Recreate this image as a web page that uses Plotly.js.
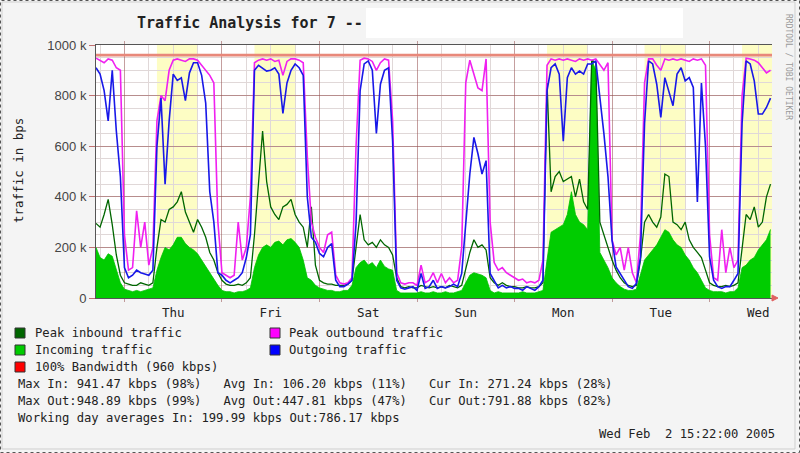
<!DOCTYPE html>
<html>
<head>
<meta charset="utf-8">
<script src="https://cdn.plot.ly/plotly-3.0.1.min.js"></script>
<style>
html,body{margin:0;padding:0;background:#f4f4f4;}
#chart{width:800px;height:453px;}
</style>
</head>
<body>
<div id="chart"></div>
<script>
// ---- data (kbps), hourly samples from Wed 2005-01-26 17:00 to Wed 2005-02-02 15:00 ----
const startTime = '2005-01-26 17:00';
const endTime = '2005-02-02 15:22';

const incoming = [
  200,160,150,175,165,110,60,
  35,30,25,30,25,30,35,40,110,160,200,190,210,240,240,215,200,190,175,150,120,100,70,50,
  30,25,25,20,25,25,30,40,120,170,200,210,200,220,225,210,230,235,220,200,150,80,70,50,
  40,35,30,30,25,25,30,30,50,120,140,150,130,140,120,150,125,115,110,30,20,20,20,20,
  20,25,20,20,25,20,20,25,20,20,25,30,60,90,100,95,90,80,30,20,25,20,20,20,
  20,20,25,20,20,20,25,30,150,260,270,280,290,330,420,330,300,290,270,940,900,180,150,120,
  80,60,45,35,30,30,35,90,150,170,190,210,240,270,260,230,210,200,170,150,120,100,70,40,
  30,25,25,25,20,25,25,40,120,130,150,160,190,210,230,271
];
const peakInbound = [
  295,280,330,390,290,170,90,
  60,55,50,50,60,55,50,60,200,310,300,350,360,380,420,340,300,260,310,280,240,180,150,100,
  70,55,50,50,55,50,60,80,250,450,660,460,360,330,310,360,370,390,330,300,280,200,360,130,
  70,60,55,55,50,50,50,55,70,200,330,230,210,220,200,230,210,200,170,80,45,40,45,40,
  40,50,45,40,45,40,45,40,50,45,40,50,120,180,230,200,210,190,80,60,50,60,50,45,
  45,40,40,45,40,40,45,60,850,420,480,500,460,470,480,400,470,380,350,941,930,300,250,200,
  150,110,80,60,50,45,50,150,300,330,300,280,320,490,480,300,290,270,300,230,200,180,160,110,
  60,50,45,45,50,45,50,60,200,330,310,360,280,300,400,450
];
const outgoing = [
  910,885,820,700,900,660,480,
  120,80,90,110,100,95,90,110,600,790,450,700,885,860,870,780,890,930,930,880,770,420,300,100,
  90,70,60,70,80,100,160,250,900,920,910,897,900,910,885,730,850,900,925,910,880,400,240,220,
  176,163,200,215,70,45,45,55,70,294,820,925,937,900,650,845,900,910,620,70,40,35,40,45,
  30,97,38,45,70,38,45,40,45,55,45,97,294,490,635,570,490,543,97,70,40,50,40,45,
  38,38,30,45,38,30,45,70,820,910,925,885,620,871,910,885,897,885,925,925,937,800,650,480,
  228,123,97,70,45,38,58,163,690,937,925,845,714,871,819,760,885,910,858,871,832,380,850,600,
  163,70,45,38,45,45,70,97,690,937,925,858,727,727,753,790
];
const peakOutbound = [
  948,940,930,945,940,910,900,
  250,110,120,345,200,300,130,200,700,800,780,900,940,945,940,935,945,945,940,920,900,880,850,300,
  100,90,80,90,300,150,200,400,930,940,945,940,945,935,940,880,935,945,945,940,930,560,300,240,
  200,180,250,260,90,60,55,60,80,600,940,948,945,935,900,930,945,940,700,100,60,55,60,60,
  50,130,60,70,100,60,97,60,80,60,70,200,850,940,880,830,820,945,300,140,110,120,100,90,
  80,70,75,60,65,60,70,150,920,945,940,945,940,945,940,935,945,940,945,940,945,920,900,930,
  230,170,200,110,200,100,60,250,850,945,945,920,900,945,940,945,940,945,940,935,945,940,945,920,
  250,80,70,270,100,200,120,150,800,948,945,940,930,910,890,900
];
const bandwidth = 960;

const dayLabels = ['Thu','Fri','Sat','Sun','Mon','Tue','Wed'];
const dayNoons = ['2005-01-27 12:00','2005-01-28 12:00','2005-01-29 12:00','2005-01-30 12:00',
                  '2005-01-31 12:00','2005-02-01 12:00','2005-02-02 12:00'];
const workingDays = ['2005-01-27','2005-01-28','2005-01-31','2005-02-01','2005-02-02'];
const yTickVals = [0,200,400,600,800,1000];
const yTickText = ['0','200 k','400 k','600 k','800 k','1000 k'];

const legendItems = [
  {label:'Peak inbound traffic', color:'#006600', col:0, row:0},
  {label:'Peak outbound traffic', color:'#ff00ff', col:1, row:0},
  {label:'Incoming traffic', color:'#00cc00', col:0, row:1},
  {label:'Outgoing traffic', color:'#0000ff', col:1, row:1},
  {label:'100% Bandwidth (960 kbps)', color:'#ff0000', col:0, row:2}
];
const statLines = [
  'Max In: 941.47 kbps (98%)   Avg In: 106.20 kbps (11%)   Cur In: 271.24 kbps (28%)',
  'Max Out:948.89 kbps (99%)   Avg Out:447.81 kbps (47%)   Cur Out:791.88 kbps (82%)',
  'Working day averages In: 199.99 kbps Out:786.17 kbps'
];
const stamp = 'Wed Feb  2 15:22:00 2005';

// ---- time axis samples ----
function fmt(ms){ return new Date(ms).toISOString().slice(0,16).replace('T',' '); }
const t0 = Date.parse(startTime.replace(' ','T')+':00Z');
const times = incoming.map((_,i)=>fmt(t0 + i*3600000));

// ---- layout helpers (pixel -> paper) ----
const L=96, R=772, T=45, B=298;
const PX = p => (p-L)/(R-L);
const PY = p => (B-p)/(B-T);
const nb = s => s.replace(/ /g,'\u00a0');
const mono = 'DejaVu Sans Mono, monospace';

const traces = [
  {x:times, y:incoming, type:'scatter', mode:'lines', fill:'tozeroy',
   fillcolor:'#00cc00', line:{color:'#00c000', width:0.8}, name:'Incoming traffic'},
  {x:times, y:peakInbound, type:'scatter', mode:'lines',
   line:{color:'#006600', width:1.3}, name:'Peak inbound traffic'},
  {x:times, y:peakOutbound, type:'scatter', mode:'lines',
   line:{color:'#f020f0', width:1.6}, name:'Peak outbound traffic'},
  {x:times, y:outgoing, type:'scatter', mode:'lines',
   line:{color:'#1818e8', width:1.6}, name:'Outgoing traffic'},
  {x:[startTime,endTime], y:[bandwidth,bandwidth], xaxis:'x2', type:'scatter', mode:'lines',
   line:{color:'#e8887a', width:2.6}, name:'100% Bandwidth'}
];

const shapes = [];
// working-hours shading
workingDays.forEach(d=>{
  let a = d+' 08:00', b = d+' 18:00';
  if (b > endTime) b = endTime;
  shapes.push({type:'rect', xref:'x', yref:'paper', x0:a, x1:b, y0:0, y1:1,
    fillcolor:'#fdfdc4', line:{width:0}, layer:'below'});
});
// frame
shapes.push({type:'rect', xref:'paper', yref:'paper', x0:PX(2), x1:PX(795), y0:PY(449), y1:PY(2),
  line:{color:'#cfcfcf', width:1}, layer:'below'});
shapes.push({type:'rect', xref:'paper', yref:'paper', x0:PX(0.5), x1:PX(799.5), y0:PY(452.5), y1:PY(0.5),
  line:{color:'#555', width:1, dash:'dot'}, layer:'above'});
// blanked area after title
shapes.push({type:'rect', xref:'paper', yref:'paper', x0:PX(366), x1:PX(683), y0:PY(38), y1:PY(8),
  fillcolor:'#ffffff', line:{width:0}, layer:'below'});
// axis arrow
shapes.push({type:'path', xref:'paper', yref:'paper',
  path:`M ${PX(772)} ${PY(295)} L ${PX(778)} ${PY(298)} L ${PX(772)} ${PY(301)} Z`,
  fillcolor:'#e06060', line:{color:'#e06060', width:1}});

const annotations = [];
const colX = [15, 270], textX = [33, 287], rowY = [333, 350, 367];
legendItems.forEach(it=>{
  const x = colX[it.col], y = rowY[it.row];
  shapes.push({type:'rect', xref:'paper', yref:'paper', x0:PX(x), x1:PX(x+10), y0:PY(y+5), y1:PY(y-5),
    fillcolor:it.color, line:{color:'#333', width:1}});
  annotations.push({xref:'paper', yref:'paper', x:PX(textX[it.col]), y:PY(y), xanchor:'left', yanchor:'middle',
    text:nb(it.label), showarrow:false, font:{family:mono, size:12.2, color:'#222'}});
});
statLines.forEach((s,i)=>{
  annotations.push({xref:'paper', yref:'paper', x:PX(16), y:PY(384+i*16.8), xanchor:'left', yanchor:'middle',
    text:nb(s), showarrow:false, font:{family:mono, size:12.2, color:'#222'}});
});
annotations.push({xref:'paper', yref:'paper', x:PX(777), y:PY(434), xanchor:'right', yanchor:'middle',
  text:nb(stamp), showarrow:false, font:{family:mono, size:12.2, color:'#222'}});
annotations.push({xref:'paper', yref:'paper', x:PX(18), y:PY(171), xanchor:'center', yanchor:'middle',
  text:'traffic in bps', textangle:-90, showarrow:false, font:{family:mono, size:12.5, color:'#222'}});
annotations.push({xref:'paper', yref:'paper', x:PX(789), y:PY(67), xanchor:'center', yanchor:'middle',
  text:'RRDTOOL / TOBI OETIKER', textangle:90, showarrow:false, font:{family:mono, size:8, color:'#9a9a9a'}});

const majorGrid = 'rgba(150,80,80,0.55)';
const minorGrid = '#e0d8d8';

const layout = {
  width:800, height:453,
  paper_bgcolor:'#f4f4f4', plot_bgcolor:'#ffffff',
  margin:{l:L, r:800-R, t:T, b:453-B, pad:0},
  showlegend:false,
  title:{text:'<b>Traffic Analysis for 7 --</b>', x:137/800, xanchor:'left', xref:'container',
         y:1-23/453, yanchor:'middle', yref:'container',
         font:{family:mono, size:15, color:'#222'}},
  xaxis:{type:'date', range:[startTime,endTime], tickmode:'linear', tick0:'2005-01-27', dtick:86400000,
         showticklabels:false, showgrid:true, gridcolor:majorGrid, gridwidth:1,
         minor:{tickmode:'linear', tick0:'2005-01-27', dtick:21600000, showgrid:true, gridcolor:minorGrid, ticks:''},
         showline:true, linecolor:'#555', linewidth:1, ticks:'outside', ticklen:3, tickcolor:majorGrid,
         mirror:'ticks', zeroline:false, fixedrange:true},
  xaxis2:{type:'date', range:[startTime,endTime], overlaying:'x', side:'bottom', anchor:'y',
          tickmode:'array', tickvals:dayNoons, ticktext:dayLabels, showgrid:false, ticks:'',
          ticklabelstandoff:5,
          showline:false, zeroline:false, tickfont:{family:mono, size:12.5, color:'#222'}},
  yaxis:{range:[0,1000], tickmode:'array', tickvals:yTickVals, ticktext:yTickText,
         showgrid:true, gridcolor:majorGrid, gridwidth:1,
         minor:{tickmode:'linear', tick0:0, dtick:50, showgrid:true, gridcolor:minorGrid, ticks:''},
         showline:true, linecolor:'#555', linewidth:1, ticks:'outside', ticklen:6, tickcolor:'#c07070',
         zeroline:false, tickfont:{family:'Liberation Sans, Arial, sans-serif', size:13, color:'#444'}},
  shapes:shapes,
  annotations:annotations
};

Plotly.newPlot('chart', traces, layout, {staticPlot:true, displayModeBar:false});
</script>
</body>
</html>
